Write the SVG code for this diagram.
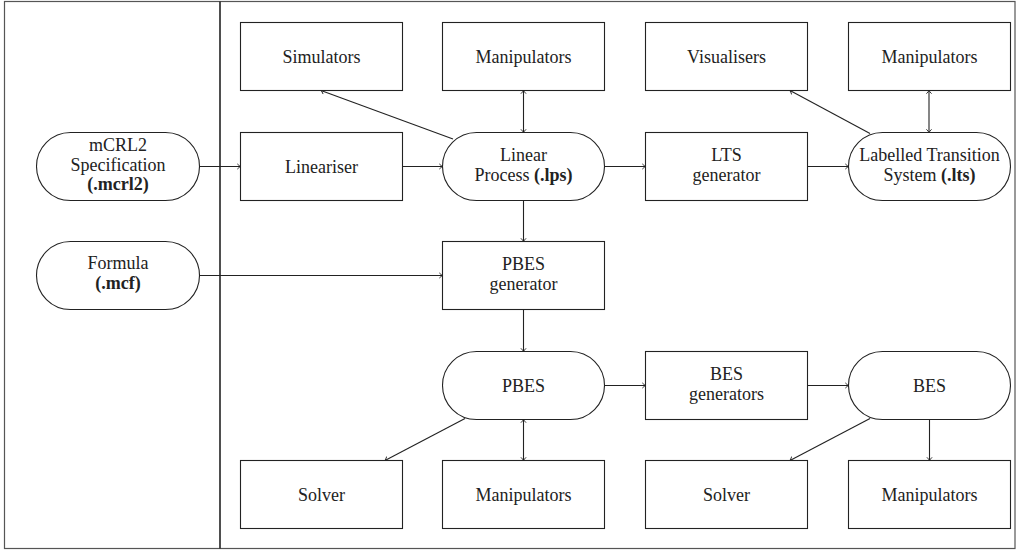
<svg xmlns="http://www.w3.org/2000/svg" width="1019" height="550" viewBox="0 0 1019 550">
<style>
.box{fill:#fff;stroke:#222;stroke-width:1.1}
text{font-family:'Liberation Serif','Times New Roman',Times,'DejaVu Serif','Noto Serif',serif;font-size:18px;fill:#222;text-anchor:middle}
.b{font-weight:bold}
.c{fill:none;stroke:#222;stroke-width:1.1}
.a{marker-end:url(#ah)}
.d{marker-end:url(#ah);marker-start:url(#ah)}
</style>
<defs>
<marker id="ah" markerUnits="userSpaceOnUse" markerWidth="10" markerHeight="10" refX="0" refY="0" viewBox="-5 -5 10 10" orient="auto-start-reverse">
<path d="M-3.2,-2.6 Q-1.2,-0.6 0,0 Q-1.2,0.6 -3.2,2.6" fill="none" stroke="#222" stroke-width="0.9"/>
</marker>
</defs>
<rect x="4.5" y="1.5" width="1010.5" height="547" fill="#fff" stroke="#555" stroke-width="1.2"/>
<line x1="220" y1="1.5" x2="220" y2="548.5" stroke="#222" stroke-width="1.6"/>

<g id="connectors">
<path class="c a" d="M199.5,166.5H240.5"/>
<path class="c a" d="M402.5,166.5H442.5"/>
<path class="c a" d="M604.5,166.5H645.5"/>
<path class="c a" d="M807.5,166.5H848.5"/>
<path class="c a" d="M453,139L321,90.5"/>
<path class="c d" d="M523.5,90.5V132.5"/>
<path class="c a" d="M870,133.5L790,90.5"/>
<path class="c d" d="M929,90.5V132.5"/>
<path class="c a" d="M523.5,200.5V241.5"/>
<path class="c a" d="M199.5,275.5H442.5"/>
<path class="c a" d="M523.5,309.5V351.5"/>
<path class="c a" d="M604.5,385.5H645.5"/>
<path class="c a" d="M807.5,385.5H848.5"/>
<path class="c a" d="M465,418.5L385,460.5"/>
<path class="c d" d="M523.5,419.5V460.5"/>
<path class="c a" d="M870,418.5L790,460.5"/>
<path class="c a" d="M929.5,419.5V460.5"/>
</g>

<g font-family="'Liberation Serif','Times New Roman',Times,serif">
<g id="mcrl2">
<rect class="box" x="36.5" y="132.5" width="163" height="68" rx="34"/>
<text x="118" y="151">mCRL2</text>
<text x="118" y="170.5">Specification</text>
<text class="b" x="118" y="190">(.mcrl2)</text>
</g>
<g id="formula">
<rect class="box" x="36.5" y="241.5" width="163" height="68" rx="34"/>
<text x="118" y="269">Formula</text>
<text class="b" x="118" y="289">(.mcf)</text>
</g>

<g id="simulators">
<rect class="box" x="240.5" y="22.5" width="162" height="68"/>
<text x="321.5" y="62.5">Simulators</text>
</g>
<g id="manip-lps">
<rect class="box" x="442.5" y="22.5" width="162" height="68"/>
<text x="523.5" y="62.5">Manipulators</text>
</g>
<g id="visualisers">
<rect class="box" x="645.5" y="22.5" width="162" height="68"/>
<text x="726.5" y="62.5">Visualisers</text>
</g>
<g id="manip-lts">
<rect class="box" x="848.5" y="22.5" width="162" height="68"/>
<text x="929.5" y="62.5">Manipulators</text>
</g>

<g id="lineariser">
<rect class="box" x="240.5" y="132.5" width="162" height="68"/>
<text x="321.5" y="172.5">Lineariser</text>
</g>
<g id="lps">
<rect class="box" x="442.5" y="132.5" width="162" height="68" rx="34"/>
<text x="523.5" y="160.5">Linear</text>
<text x="523.5" y="180.5">Process <tspan class="b">(.lps)</tspan></text>
</g>
<g id="ltsgen">
<rect class="box" x="645.5" y="132.5" width="162" height="68"/>
<text x="726.5" y="160.5">LTS</text>
<text x="726.5" y="180.5">generator</text>
</g>
<g id="lts">
<rect class="box" x="848.5" y="132.5" width="162" height="68" rx="34"/>
<text x="929.5" y="160.5">Labelled Transition</text>
<text x="929.5" y="180.5">System <tspan class="b">(.lts)</tspan></text>
</g>

<g id="pbesgen">
<rect class="box" x="442.5" y="241.5" width="162" height="68"/>
<text x="523.5" y="270">PBES</text>
<text x="523.5" y="290">generator</text>
</g>

<g id="pbes">
<rect class="box" x="442.5" y="351.5" width="162" height="68" rx="34"/>
<text x="523.5" y="391.5">PBES</text>
</g>
<g id="besgen">
<rect class="box" x="645.5" y="351.5" width="162" height="68"/>
<text x="726.5" y="379.5">BES</text>
<text x="726.5" y="399.5">generators</text>
</g>
<g id="bes">
<rect class="box" x="848.5" y="351.5" width="162" height="68" rx="34"/>
<text x="929.5" y="391.5">BES</text>
</g>

<g id="solver-pbes">
<rect class="box" x="240.5" y="460.5" width="162" height="68"/>
<text x="321.5" y="500.5">Solver</text>
</g>
<g id="manip-pbes">
<rect class="box" x="442.5" y="460.5" width="162" height="68"/>
<text x="523.5" y="500.5">Manipulators</text>
</g>
<g id="solver-bes">
<rect class="box" x="645.5" y="460.5" width="162" height="68"/>
<text x="726.5" y="500.5">Solver</text>
</g>
<g id="manip-bes">
<rect class="box" x="848.5" y="460.5" width="162" height="68"/>
<text x="929.5" y="500.5">Manipulators</text>
</g>
</g>
</svg>
